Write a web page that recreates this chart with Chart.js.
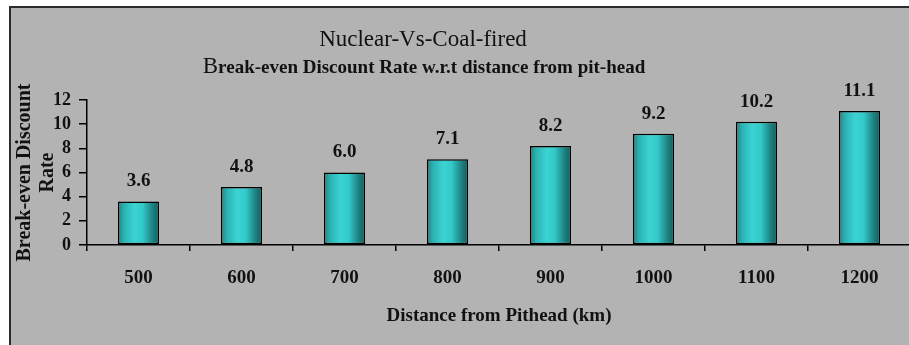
<!DOCTYPE html>
<html>
<head>
<meta charset="utf-8">
<script src="https://cdn.jsdelivr.net/npm/chart.js@4.4.1/dist/chart.umd.min.js"></script>
<style>
  html, body { margin: 0; padding: 0; overflow: hidden; background: #fff; }
  #wrap { width: 911px; height: 345px; }
</style>
</head>
<body>
<div id="wrap"><canvas id="c" width="911" height="345"></canvas></div>
<script>
// Break-even discount rate (%) by distance from the pit-head (km)
const distances = ['500', '600', '700', '800', '900', '1000', '1100', '1200'];
const breakEvenRates = [3.6, 4.8, 6.0, 7.1, 8.2, 9.2, 10.2, 11.1];
const rateTicks = [0, 2, 4, 6, 8, 10, 12];

const titleLine1 = 'Nuclear-Vs-Coal-fired';
const titleLine2 = 'Break-even Discount Rate w.r.t distance from pit-head';
const yTitle = ['Break-even Discount', 'Rate'];
const xTitle = 'Distance from Pithead (km)';

const SERIF = '"Liberation Serif", "Times New Roman", serif';
const INK = '#111';

// grey panel with a dark frame behind everything
const panel = {
  id: 'panel',
  beforeDraw(chart) {
    const { ctx, width, height } = chart;
    ctx.save();
    ctx.fillStyle = '#fff';
    ctx.fillRect(0, 0, width, height);
    ctx.fillStyle = '#b3b3b3';
    ctx.fillRect(10, 7, width, height);
    ctx.strokeStyle = '#2b2b2b';
    ctx.lineWidth = 2;
    ctx.strokeRect(10, 7, width + 20, height + 20);
    ctx.restore();
  }
};

// two-line heading, second line opens with an enlarged initial
const heading = {
  id: 'heading',
  afterDraw(chart) {
    const { ctx } = chart;
    ctx.save();
    ctx.fillStyle = INK;
    ctx.textBaseline = 'alphabetic';
    ctx.textAlign = 'left';
    ctx.font = '23px ' + SERIF;
    const w1 = ctx.measureText(titleLine1).width;
    ctx.fillText(titleLine1, 423 - w1 / 2, 46);

    const first = titleLine2.charAt(0);
    const rest = titleLine2.slice(1);
    ctx.font = '23px ' + SERIF;
    const wB = ctx.measureText(first).width;
    ctx.font = 'bold 19px ' + SERIF;
    const wR = ctx.measureText(rest).width;
    const x0 = 424 - (wB + wR) / 2;
    ctx.font = '23px ' + SERIF;
    ctx.fillText(first, x0, 73);
    ctx.font = 'bold 19px ' + SERIF;
    ctx.fillText(rest, x0 + wB, 73);
    ctx.restore();
  }
};

// value printed above each bar
const valueLabels = {
  id: 'valueLabels',
  afterDatasetsDraw(chart) {
    const { ctx } = chart;
    const meta = chart.getDatasetMeta(0);
    ctx.save();
    ctx.fillStyle = INK;
    ctx.font = 'bold 19px ' + SERIF;
    ctx.textAlign = 'center';
    ctx.textBaseline = 'middle';
    meta.data.forEach((bar, i) => {
      ctx.fillText(breakEvenRates[i].toFixed(1), bar.x, bar.y - 20);
    });
    ctx.restore();
  }
};

const BAR_SHARE = 0.4;

// cylinder-like horizontal shading for each bar
function barFill(c) {
  const chart = c.chart;
  const xs = chart.scales && chart.scales.x;
  if (!xs || !(xs.width > 0) || c.dataIndex === undefined) return '#33c6c6';
  const cx = xs.getPixelForValue(c.dataIndex);
  const half = (xs.width / distances.length) * BAR_SHARE / 2;
  const g = chart.ctx.createLinearGradient(cx - half, 0, cx + half, 0);
  g.addColorStop(0.00, '#1b8484');
  g.addColorStop(0.15, '#2ab3b3');
  g.addColorStop(0.40, '#3bd3d3');
  g.addColorStop(0.60, '#34c9c9');
  g.addColorStop(0.85, '#1f7e7e');
  g.addColorStop(1.00, '#165c5c');
  return g;
}

new Chart(document.getElementById('c'), {
  type: 'bar',
  data: {
    labels: distances,
    datasets: [{
      data: breakEvenRates,
      backgroundColor: barFill,
      borderColor: '#000',
      borderWidth: 1.5,
      borderSkipped: false,
      categoryPercentage: 1,
      barPercentage: BAR_SHARE
    }]
  },
  options: {
    responsive: false,
    animation: false,
    layout: { padding: { top: 100, left: 0, right: 0, bottom: 0 } },
    plugins: {
      legend: { display: false },
      tooltip: { enabled: false },
      title: { display: false }
    },
    scales: {
      x: {
        offset: true,
        afterFit: s => { s.height = 100; },
        ticks: {
          color: INK,
          padding: 16,
          autoSkip: false,
          maxRotation: 0,
          font: { family: SERIF, size: 19, weight: 'bold' }
        },
        grid: {
          offset: true,
          drawOnChartArea: false,
          drawTicks: true,
          tickLength: 6,
          color: '#000',
          tickColor: '#000',
          lineWidth: 1.5
        },
        border: { color: '#000', width: 1.5 },
        title: {
          display: true,
          text: xTitle,
          color: INK,
          font: { family: SERIF, size: 19, weight: 'bold', lineHeight: 1.2 },
          padding: { top: 0, bottom: 18 }
        }
      },
      y: {
        min: 0,
        max: 12,
        afterFit: s => { s.width = 87; },
        afterBuildTicks: s => { s.ticks = rateTicks.map(v => ({ value: v })); },
        ticks: {
          color: INK,
          padding: 8,
          autoSkip: false,
          font: { family: SERIF, size: 18, weight: 'bold', lineHeight: 1 }
        },
        grid: {
          drawOnChartArea: false,
          drawTicks: true,
          tickLength: 8,
          color: '#000',
          tickColor: '#000',
          lineWidth: 1.5
        },
        border: { color: '#000', width: 1.5 },
        title: {
          display: true,
          text: yTitle,
          color: INK,
          font: { family: SERIF, size: 20, weight: 'bold', lineHeight: 1.15 },
          padding: { top: 13, bottom: 0 }
        }
      }
    }
  },
  plugins: [panel, heading, valueLabels]
});
</script>
</body>
</html>
